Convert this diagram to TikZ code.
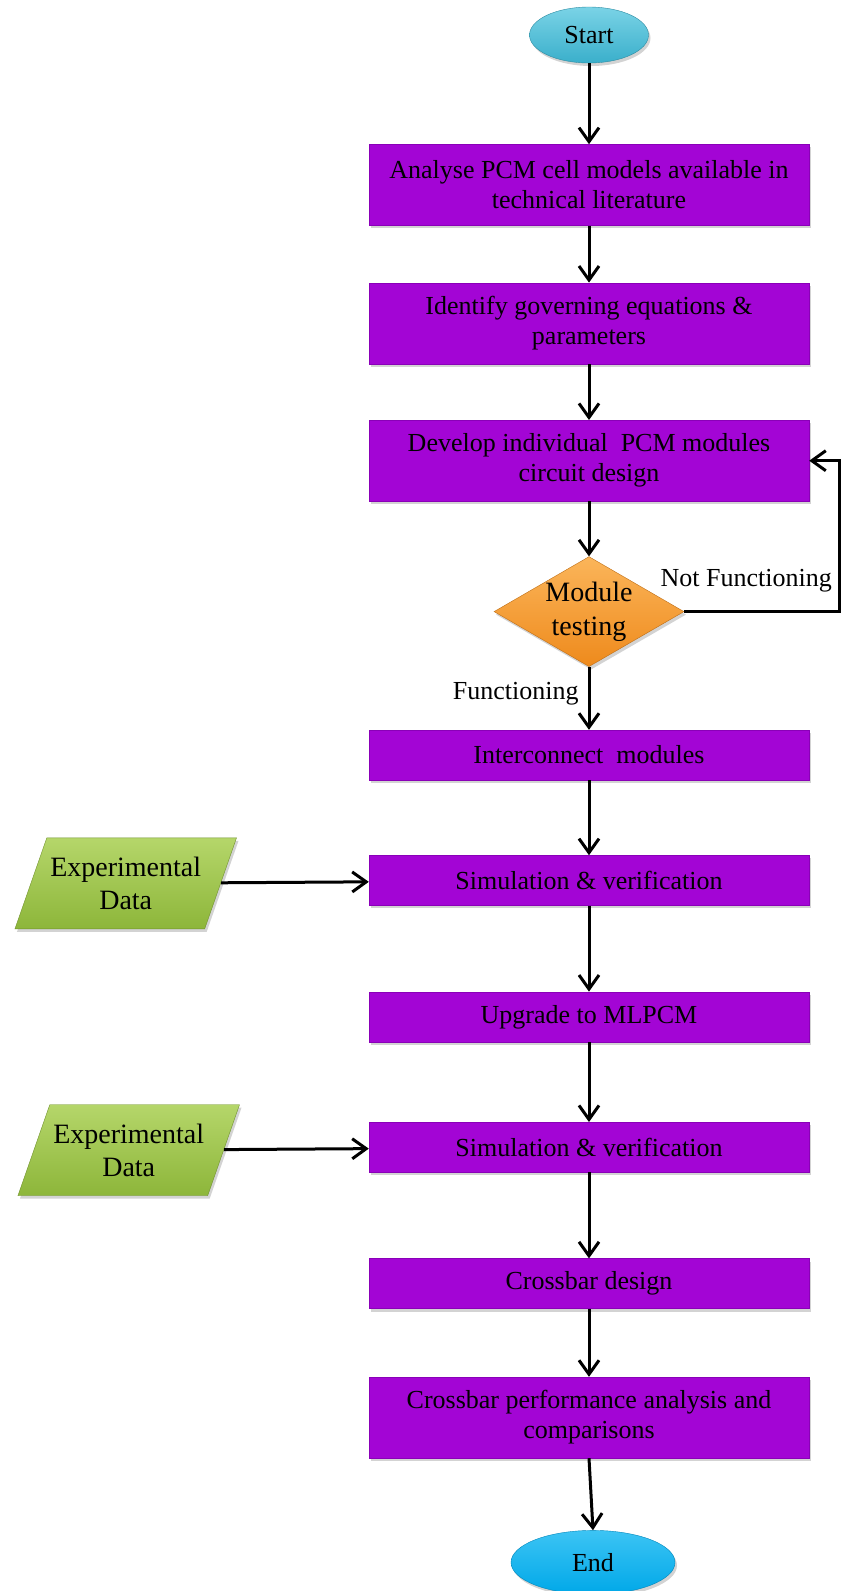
\documentclass[tikz,border=0pt]{standalone}
\usepackage{fontspec}
\setmainfont{Liberation Serif}
\usetikzlibrary{positioning,arrows.meta,shapes.geometric,shadows}
\definecolor{boxfill}{HTML}{A305D5}
\definecolor{boxedge}{HTML}{8A00B8}
\definecolor{starttop}{HTML}{7AD3E6}
\definecolor{startbot}{HTML}{3AAFCB}
\definecolor{endtop}{HTML}{3CC4F4}
\definecolor{endbot}{HTML}{00A8E8}
\definecolor{dectop}{HTML}{FBB55A}
\definecolor{decbot}{HTML}{EE8A1C}
\definecolor{datatop}{HTML}{B5D66A}
\definecolor{databot}{HTML}{8DB63A}
\newcommand{\flowfont}{\fontsize{26}{30}\selectfont}
\newcommand{\decfont}{\fontsize{28}{34}\selectfont}
\newcommand{\datafont}{\fontsize{28}{33}\selectfont}

\begin{document}
\begin{tikzpicture}[x=1pt,y=1pt,
    shd/.style={drop shadow={shadow xshift=2pt,shadow yshift=-3pt,opacity=0.35}},
    box/.style={draw=boxedge,fill=boxfill,shd,minimum width=440pt,minimum height=50pt,
                align=center,inner sep=4pt,font=\flowfont},
    tall/.style={box,minimum height=81pt},
    term/.style={ellipse,draw=startbot!80!black,shd,font=\flowfont,inner sep=0pt},
    decision/.style={diamond,aspect=1.73,draw=decbot!80!black,top color=dectop,bottom color=decbot,
                     shd,minimum width=190pt,minimum height=110pt,inner sep=0pt,align=center,font=\decfont},
    datain/.style={trapezium,trapezium left angle=60,trapezium right angle=120,trapezium stretches=true,
                   draw=databot!80!black,top color=datatop,bottom color=databot,shd,
                   minimum width=222pt,minimum height=91pt,inner sep=0pt,align=center,font=\datafont},
    arr/.style={-{Straight Barb[length=14pt,width=20pt]},line width=3pt},
    lbl/.style={font=\flowfont,inner sep=0pt}
  ]
  \useasboundingbox (0,0) rectangle (841,-1591);

  % main column
  \node[term,top color=starttop,bottom color=startbot,minimum width=119pt,minimum height=56pt] (start) at (589,-35) {Start};
  \node[tall,below=81pt of start] (analyse) {Analyse PCM cell models available in\\technical literature};
  \node[tall,below=57pt of analyse] (ident) {Identify governing equations \&\\parameters};
  \node[tall,below=56pt of ident] (dev) {Develop individual\ \ PCM modules\\circuit design};
  \node[decision,below=55pt of dev] (test) {Module\\testing};
  \node[box,below=63pt of test] (iface) {Interconnect\ \ modules};
  \node[box,below=75pt of iface] (sim1) {Simulation \& verification};
  \node[box,below=86pt of sim1] (mlpcm) {Upgrade to MLPCM};
  \node[box,below=80pt of mlpcm] (sim2) {Simulation \& verification};
  \node[box,below=86pt of sim2] (xbar) {Crossbar design};
  \node[tall,below=68pt of xbar] (perf) {Crossbar performance analysis and\\comparisons};
  \node[term,draw=endbot!80!black,top color=endtop,bottom color=endbot,minimum width=164pt,minimum height=64pt,
        below=72pt of perf,xshift=4pt] (stop) {End};

  % inputs
  \node[datain,left=148pt of sim1,yshift=-3pt] (exp1) {Experimental\\Data};
  \node[datain,left=145pt of sim2,yshift=-3pt] (exp2) {Experimental\\Data};

  \coordinate[right=30pt of dev.east] (fbk);

  \draw[arr] (start) -- (analyse);
  \draw[arr] (analyse) -- (ident);
  \draw[arr] (ident) -- (dev);
  \draw[arr] (dev) -- (test);
  \draw[arr] (test) -- node[lbl,left=9pt,pos=0.42] {Functioning} (iface);
  \draw[arr] (test.east) -- node[lbl,above=18pt,pos=0.4] {Not Functioning} (test.east -| fbk) |- (dev.east);
  \draw[arr] (iface) -- (sim1);
  \draw[arr] (exp1) -- (sim1);
  \draw[arr] (sim1) -- (mlpcm);
  \draw[arr] (mlpcm) -- (sim2);
  \draw[arr] (exp2) -- (sim2);
  \draw[arr] (sim2) -- (xbar);
  \draw[arr] (xbar) -- (perf);
  \draw[arr] (perf.south) -- (stop.north);
\end{tikzpicture}
\end{document}
